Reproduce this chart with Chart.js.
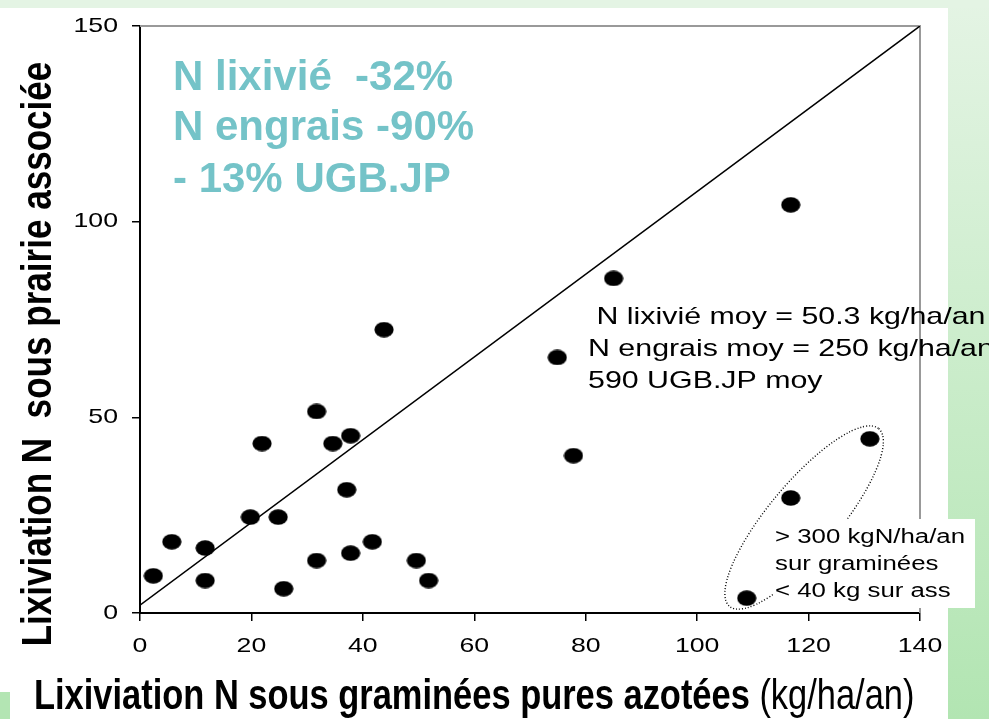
<!DOCTYPE html>
<html>
<head>
<meta charset="utf-8">
<script src="https://cdn.jsdelivr.net/npm/chart.js@4/dist/chart.umd.min.js"></script>
<style>
  html, body { margin: 0; padding: 0; background: #fff; }
  canvas { display: block; }
</style>
</head>
<body>
<canvas id="lixChart" width="989" height="719"></canvas>
<script>
// données
const xGraminees = [2.4, 5.7, 11.7, 11.7, 19.8, 21.9, 24.8, 25.8, 31.7, 31.7, 34.6, 37.8, 37.1, 37.8, 41.7, 49.6, 51.8,
  43.8, 85.0, 116.8, 74.9, 77.8, 131.0, 116.8, 108.9];
const yAssociee = [9.5, 18.2, 16.6, 8.3, 24.5, 43.3, 24.5, 6.2, 51.5, 13.4, 43.3, 45.3, 31.5, 15.3, 18.2, 13.4, 8.3,
  72.4, 85.5, 104.3, 65.3, 40.2, 44.5, 29.4, 3.8];
const diagX = [0, 140];
const diagY = [2, 150];
const xTicks = [0, 20, 40, 60, 80, 100, 120, 140];
const yTicks = [0, 50, 100, 150];

const FONT = '"Liberation Sans", Arial, sans-serif';

// point noir elliptique
const dot = document.createElement('canvas');
dot.width = 20; dot.height = 16;
const dctx = dot.getContext('2d');
dctx.fillStyle = '#000';
dctx.beginPath();
dctx.ellipse(10, 8, 9.6, 7.8, 0, 0, Math.PI * 2);
dctx.fill();

// texte étiré horizontalement
function sText(ctx, str, x, y, sx, align) {
  ctx.save();
  ctx.translate(x, y);
  ctx.scale(sx, 1);
  ctx.textAlign = align || 'left';
  ctx.fillText(str, 0, 0);
  ctx.restore();
}

const decor = {
  id: 'decor',
  beforeDraw(chart) {
    const ctx = chart.ctx;
    ctx.save();
    const g = ctx.createLinearGradient(0, 0, 0, 719);
    g.addColorStop(0, '#e4f4e4');
    g.addColorStop(1, '#b2e5b2');
    ctx.fillStyle = g;
    ctx.fillRect(0, 0, 989, 719);
    ctx.fillStyle = '#e4f4e4';
    ctx.fillRect(0, 0, 989, 8);
    ctx.fillStyle = '#fff';
    ctx.fillRect(0, 8, 948, 711);
    ctx.fillStyle = '#b3e5b3';
    ctx.fillRect(0, 692, 10, 27);
    ctx.restore();
  },
  beforeDatasetsDraw(chart) {
    const ctx = chart.ctx, a = chart.chartArea;
    ctx.save();
    ctx.strokeStyle = '#999';
    ctx.lineWidth = 2;
    ctx.beginPath();
    ctx.moveTo(a.left, a.top);
    ctx.lineTo(a.right, a.top);
    ctx.lineTo(a.right, a.bottom);
    ctx.stroke();
    ctx.restore();
  },
  afterDraw(chart) {
    const ctx = chart.ctx;
    const xs = chart.scales.x, ys = chart.scales.y;
    ctx.save();

    // ellipse pointillée autour des 3 points
    const cx = xs.getPixelForValue(119.2), cy = ys.getPixelForValue(24.4);
    ctx.strokeStyle = '#000';
    ctx.lineWidth = 1.4;
    ctx.setLineDash([1, 2]);
    ctx.beginPath();
    ctx.ellipse(cx, cy, 116, 35, -50 * Math.PI / 180, 0, Math.PI * 2);
    ctx.stroke();
    ctx.setLineDash([]);

    // encadré blanc
    ctx.fillStyle = '#fff';
    ctx.fillRect(773, 519, 202, 89);
    ctx.fillStyle = '#000';
    ctx.font = '20px ' + FONT;
    ctx.textBaseline = 'alphabetic';
    sText(ctx, '> 300 kgN/ha/an', 775, 543, 1.29);
    sText(ctx, 'sur graminées', 775, 570, 1.29);
    sText(ctx, '< 40 kg sur ass', 775, 597, 1.29);

    // graduations
    ctx.font = '21px ' + FONT;
    ctx.textBaseline = 'middle';
    ys.ticks.forEach(t => sText(ctx, String(t.value), 118, ys.getPixelForValue(t.value), 1.27, 'right'));
    ctx.textBaseline = 'alphabetic';
    xs.ticks.forEach(t => sText(ctx, String(t.value), xs.getPixelForValue(t.value), 652, 1.27, 'center'));

    // moyennes
    ctx.font = '24px ' + FONT;
    sText(ctx, ' N lixivié moy = 50.3 kg/ha/an', 588, 324, 1.265);
    sText(ctx, 'N engrais moy = 250 kg/ha/an', 588, 356, 1.265);
    sText(ctx, '590 UGB.JP moy', 588, 388, 1.265);

    // texte turquoise
    ctx.fillStyle = '#74c3c8';
    ctx.font = 'bold 42px ' + FONT;
    ctx.fillText('N lixivié  -32%', 173, 90);
    ctx.fillText('N engrais -90%', 173, 140);
    ctx.fillText('- 13% UGB.JP', 173, 192);

    // titre axe x
    ctx.fillStyle = '#000';
    const sx = 0.82;
    ctx.font = 'bold 42px ' + FONT;
    const boldPart = 'Lixiviation N sous graminées pures azotées';
    sText(ctx, boldPart, 34, 709, sx);
    const w = ctx.measureText(boldPart).width * sx;
    ctx.font = '42px ' + FONT;
    sText(ctx, ' (kg/ha/an)', 34 + w, 709, sx);

    // titre axe y
    ctx.font = 'bold 42px ' + FONT;
    ctx.translate(51, 354);
    ctx.rotate(-Math.PI / 2);
    sText(ctx, 'Lixiviation N  sous prairie associée', 0, 0, 0.835, 'center');
    ctx.restore();
  }
};

new Chart(document.getElementById('lixChart'), {
  type: 'scatter',
  data: {
    datasets: [{
      data: xGraminees.map((x, i) => ({ x: x, y: yAssociee[i] })),
      pointStyle: dot,
      pointRadius: 10,
      order: 0
    }, {
      type: 'line',
      data: diagX.map((x, i) => ({ x: x, y: diagY[i] })),
      borderColor: '#000',
      borderWidth: 1.5,
      pointRadius: 0,
      fill: false,
      order: 1
    }]
  },
  options: {
    responsive: false,
    animation: false,
    layout: { padding: { left: 132, right: 69, top: 26, bottom: 98 } },
    plugins: { legend: { display: false }, tooltip: { enabled: false } },
    scales: {
      x: {
        type: 'linear', min: 0, max: 140,
        afterBuildTicks: s => { s.ticks = xTicks.map(v => ({ value: v })); },
        ticks: { display: false },
        grid: { drawOnChartArea: false, drawTicks: true, tickLength: 8, color: '#000', lineWidth: 1.5 },
        border: { color: '#000', width: 2 }
      },
      y: {
        min: 0, max: 150,
        afterBuildTicks: s => { s.ticks = yTicks.map(v => ({ value: v })); },
        ticks: { display: false },
        grid: { drawOnChartArea: false, drawTicks: true, tickLength: 8, color: '#000', lineWidth: 1.5 },
        border: { color: '#000', width: 2 }
      }
    }
  },
  plugins: [decor]
});
</script>
</body>
</html>
